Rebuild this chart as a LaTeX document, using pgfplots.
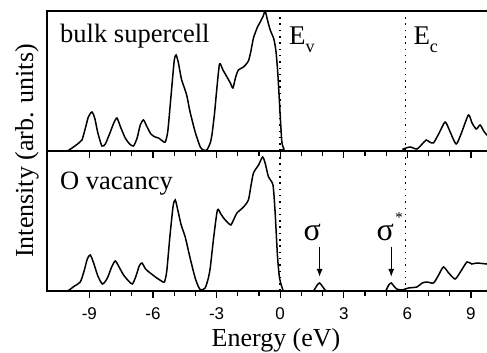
\documentclass[border=0pt]{standalone}
\usepackage{fontspec}
\setmainfont{Liberation Serif}
\setsansfont{Liberation Sans}
\usepackage{pgfplots}
\pgfplotsset{compat=1.18}
\usetikzlibrary{arrows.meta}
\begin{document}
\begin{tikzpicture}
\useasboundingbox (-47pt,-62pt) rectangle (440pt,291pt);
\clip (-47pt,-62pt) rectangle (440pt,291pt);
\pgfplotsset{
 panel/.style={
  scale only axis, width=449.4pt, height=140pt,
  xmin=-11, xmax=10.2, ymin=0, ymax=140,
  ytick=\empty, xtick={-9,-6,-3,0,3,6,9}, minor x tick num=2,
  xtick pos=left, tick align=outside,
  major tick length=7pt, minor tick length=5pt,
  every tick/.style={black, line width=1.2pt},
  axis line style={line width=1.7pt},
  every axis plot/.append style={line width=1.5pt, black},
 }
}
% bottom panel
\begin{axis}[panel, at={(0pt,0pt)}, anchor=south west,
  xticklabels={-9,-6,-3,0,3,6,9},
  xticklabel style={font=\sffamily\fontsize{17}{17}\selectfont, yshift=-6pt}]
\addplot[smooth, tension=0.4] coordinates {
(-10.1,0) (-9.99,0.5) (-9.7,5) (-9.43,9) (-9.25,20) (-9.1,32) (-8.96,36) (-8.8,28) (-8.6,15) (-8.38,7) (-8.15,13) (-7.95,24) (-7.78,30) (-7.6,24) (-7.39,16) (-7.15,10) (-6.97,7) (-6.8,15) (-6.65,25) (-6.52,28) (-6.35,22) (-6.13,18) (-5.82,13) (-5.6,10) (-5.46,9) (-5.35,20) (-5.2,55) (-5.05,85) (-4.95,91) (-4.82,80) (-4.67,66) (-4.48,54) (-4.25,33) (-4.01,13) (-3.85,4) (-3.74,1) (-3.54,3) (-3.40,12) (-3.30,23) (-3.14,53) (-2.96,81) (-2.8,77) (-2.67,73) (-2.5,69) (-2.33,66) (-2.18,72) (-2.04,78) (-1.73,84) (-1.5,91) (-1.38,105) (-1.26,118) (-1.02,126) (-0.83,134) (-0.71,128) (-0.55,114) (-0.34,106) (-0.24,79) (-0.13,36) (-0.03,13) (0.13,1) (0.25,0) (1.5,0) (1.6,1) (1.75,6) (1.86,8) (1.98,5) (2.12,1) (2.2,0) (4.9,0) (5.0,1) (5.12,6) (5.24,8) (5.36,5) (5.5,2) (5.74,1) (6.05,3) (6.45,4) (6.7,8) (6.92,9) (7.23,8) (7.45,15) (7.70,24) (7.95,18) (8.25,12) (8.5,19) (8.81,29) (9.04,27) (9.28,28) (9.75,27) (10.0,27)
};
\addplot[line width=1.5pt, dash pattern=on 1.5pt off 4.8pt] coordinates {(0,0) (0,140)};
\addplot[line width=1.5pt, dash pattern=on 1.5pt off 4.8pt] coordinates {(5.92,0) (5.92,140)};
\draw[line width=1.4pt, -{Latex[length=8pt,width=6pt]}] (axis cs:1.86,44.3) -- (axis cs:1.86,14);
\draw[line width=1.4pt, -{Latex[length=8pt,width=6pt]}] (axis cs:5.24,44.3) -- (axis cs:5.24,14);
\end{axis}
% top panel
\begin{axis}[panel, at={(0pt,140pt)}, anchor=south west, xticklabels=\empty]
\addplot[smooth, tension=0.4] coordinates {
(-10.1,0) (-10.0,0.5) (-9.75,4) (-9.5,8) (-9.35,11) (-9.2,22) (-9.05,34) (-8.88,39) (-8.75,33) (-8.6,18) (-8.41,5) (-8.25,7) (-8.05,17) (-7.85,28) (-7.70,33) (-7.55,25) (-7.31,13) (-7.1,7) (-6.92,5) (-6.75,13) (-6.6,26) (-6.45,31) (-6.3,25) (-6.1,17) (-5.9,14) (-5.74,13) (-5.55,10) (-5.42,9) (-5.3,20) (-5.15,55) (-5.0,90) (-4.91,96) (-4.80,88) (-4.66,72) (-4.50,62) (-4.40,55) (-4.25,39) (-4.01,19) (-3.77,4) (-3.62,1) (-3.46,1) (-3.3,8) (-3.22,16) (-3.1,37) (-2.99,62) (-2.86,87) (-2.7,81) (-2.51,74) (-2.35,68) (-2.23,63) (-2.1,74) (-1.97,81) (-1.73,84) (-1.5,90) (-1.38,100) (-1.26,113) (-1.07,124) (-0.94,129) (-0.8,135) (-0.71,140) (-0.6,131) (-0.47,121) (-0.3,112) (-0.2,100) (-0.12,80) (-0.05,55) (0.0,36) (0.08,9) (0.18,2) (0.3,0) (5.5,0) (5.8,2) (6.13,4) (6.45,2) (6.7,7) (6.89,11) (7.05,9) (7.23,8) (7.5,18) (7.78,29) (8.0,20) (8.30,7) (8.55,18) (8.88,36) (9.05,28) (9.25,22) (9.43,26) (9.6,20) (9.75,16) (10.0,12)
};
\addplot[line width=1.5pt, dash pattern=on 1.5pt off 4.8pt] coordinates {(0,0) (0,140)};
\addplot[line width=1.5pt, dash pattern=on 1.5pt off 4.8pt] coordinates {(5.92,0) (5.92,140)};
\end{axis}
% texts
\node[anchor=base west, inner sep=0pt, font=\fontsize{26.5}{26.5}\selectfont] at (13pt,248pt) {bulk supercell};
\node[anchor=base west, inner sep=0pt, font=\fontsize{26.5}{26.5}\selectfont] at (13pt,101.7pt) {O vacancy};
\node[anchor=base west, inner sep=0pt, font=\fontsize{27}{27}\selectfont] at (242pt,246.7pt) {E\raisebox{-8pt}{\fontsize{18}{18}\selectfont v}};
\node[anchor=base west, inner sep=0pt, font=\fontsize{27}{27}\selectfont] at (366.3pt,246.7pt) {E\raisebox{-8pt}{\fontsize{18}{18}\selectfont c}};
\node[anchor=base, inner sep=0pt, font=\fontsize{32}{32}\selectfont] at (265.3pt,50pt) {σ};
\node[anchor=base west, inner sep=0pt, font=\fontsize{32}{32}\selectfont] at (329.5pt,50pt) {σ\kern1.5pt\raisebox{18pt}{\fontsize{15}{15}\selectfont *}};
\node[anchor=base, inner sep=0pt, rotate=90, font=\fontsize{26}{26}\selectfont] at (-14pt,140pt) {Intensity (arb. units)};
\node[anchor=base, inner sep=0pt, font=\fontsize{26}{26}\selectfont] at (229pt,-56pt) {Energy (eV)};
\end{tikzpicture}
\end{document}
